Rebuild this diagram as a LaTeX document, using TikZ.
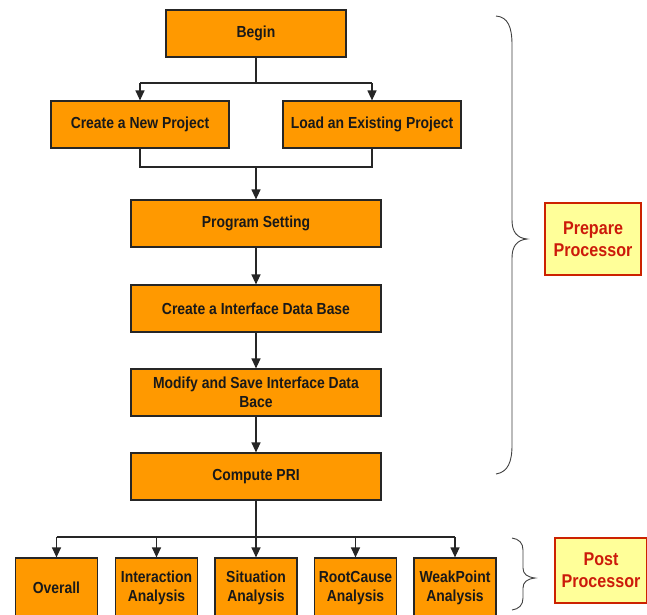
\documentclass[tikz,border=0pt]{standalone}
\usepackage{fontspec}
\setmainfont{Liberation Sans}[FakeStretch=0.87]
\usetikzlibrary{arrows.meta}
\definecolor{boxorange}{HTML}{FF9900}
\definecolor{lblfill}{HTML}{FFFF99}
\definecolor{lblred}{HTML}{CC2200}
\definecolor{lbltext}{HTML}{CC1A0A}
\begin{document}
\begin{tikzpicture}[x=1pt,y=-1pt,
  box/.style={draw=black!85, fill=boxorange, line width=1.2pt, inner sep=0pt,
    minimum height=47pt, align=center, text=black!90,
    font=\bfseries\fontsize{16}{19.5}\selectfont},
  smallbox/.style={box, minimum width=82pt, minimum height=60pt},
  lbl/.style={draw=lblred, fill=lblfill, line width=1.4pt, inner sep=0pt,
    align=center, text=lbltext, font=\bfseries\fontsize{18.5}{22}\selectfont},
  conn/.style={line width=1.2pt, draw=black!85},
  arr/.style={conn, -{Triangle[length=10pt,width=9pt]}},
  brc/.style={line width=0.9pt, draw=black!75}
]
\clip (0,0) rectangle (647,614);
\fill[white] (0,0) rectangle (647,614);

% main boxes
\node[box, minimum width=180pt] (begin) at (256,33.5) {Begin};
\node[box, minimum width=178pt] (new) at (140,124.5) {Create a New Project};
\node[box, minimum width=178pt] (load) at (372,124.5) {Load an Existing Project};
\node[box, minimum width=250pt] (prog) at (256,223.5) {Program Setting};
\node[box, minimum width=250pt] (cidb) at (256,308.5) {Create a Interface Data Base};
\node[box, minimum width=250pt] (mod) at (256,392.5) {Modify and Save Interface Data\\Bace};
\node[box, minimum width=250pt] (pri) at (256,476.5) {Compute PRI};

% bottom boxes
\node[smallbox] (ov) at (56.5,588) {Overall};
\node[smallbox] (ia) at (156.5,588) {Interaction\\Analysis};
\node[smallbox] (sa) at (256,588) {Situation\\Analysis};
\node[smallbox] (ra) at (355.5,588) {RootCause\\Analysis};
\node[smallbox] (wa) at (455,588) {WeakPoint\\Analysis};

% label boxes
\node[lbl, minimum width=96pt, minimum height=72pt] (prep) at (593,239) {Prepare\\Processor};
\node[lbl, minimum width=92pt, minimum height=65pt] (post) at (601,570.5) {Post\\Processor};

% junction coordinates
\coordinate (j1) at (256,83);
\coordinate (j1l) at (140,83);
\coordinate (j1r) at (372,83);
\coordinate (j2) at (256,167);
\coordinate (j2l) at (140,167);
\coordinate (j2r) at (372,167);
\coordinate (j3) at (256,537);
\coordinate (j3a) at (56.5,537);
\coordinate (j3b) at (156.5,537);
\coordinate (j3d) at (355.5,537);
\coordinate (j3e) at (455,537);

% connectors
\draw[conn] (begin.south) -- (j1);
\draw[conn] (j1l) -- (j1r);
\draw[arr] (j1l) -- (new.north);
\draw[arr] (j1r) -- (load.north);
\draw[conn] (new.south) -- (j2l) -- (j2r) -- (load.south);
\draw[arr] (j2) -- (prog.north);
\draw[arr] (prog.south) -- (cidb.north);
\draw[arr] (cidb.south) -- (mod.north);
\draw[arr] (mod.south) -- (pri.north);
\draw[conn] (pri.south) -- (j3);
\draw[conn] (j3a) -- (j3e);
\draw[arr] (j3a) -- (ov.north);
\draw[arr] (j3b) -- (ia.north);
\draw[arr] (j3) -- (sa.north);
\draw[arr] (j3d) -- (ra.north);
\draw[arr] (j3e) -- (wa.north);

% big brace
\draw[brc] (496,16) .. controls (508,17) and (512,27) .. (512,45)
  -- (512,220) .. controls (512,232) and (517,238) .. (527,239)
  .. controls (517,240) and (512,246) .. (512,258)
  -- (512,445) .. controls (512,462) and (508,472) .. (496,474);
% small brace
\draw[brc] (512,538) .. controls (519,539) and (523,543) .. (523,550)
  -- (523,568) .. controls (523,574) and (527,577) .. (535,578)
  .. controls (527,579) and (523,582) .. (523,588)
  -- (523,598) .. controls (523,605) and (519,609) .. (512,610);
\end{tikzpicture}
\end{document}
